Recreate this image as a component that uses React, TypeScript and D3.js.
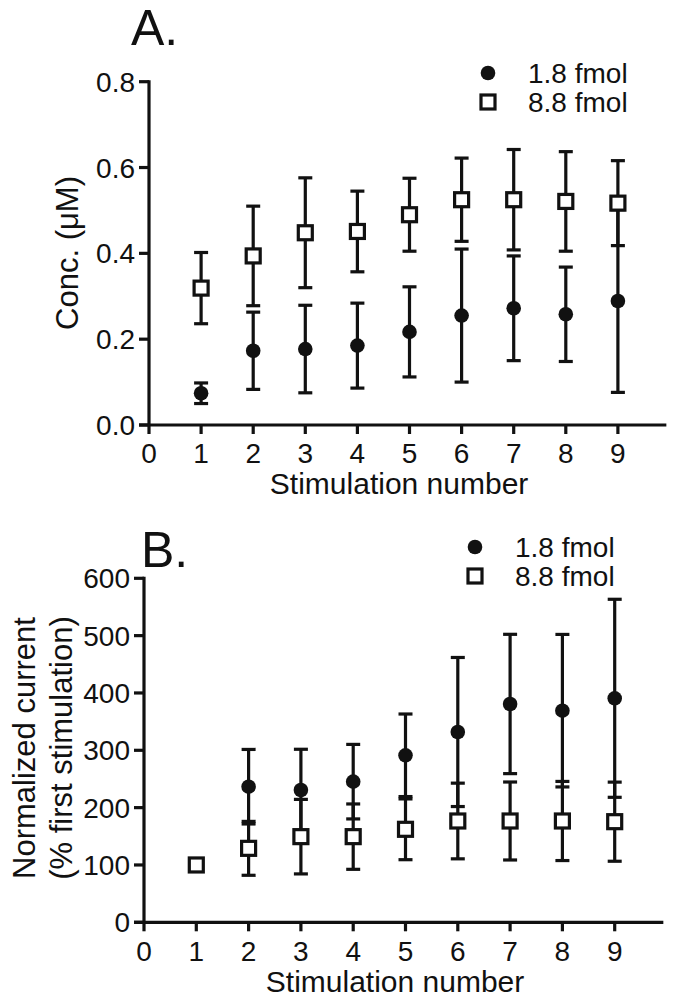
import React from "react";
import * as d3 from "d3";

const stims = [1, 2, 3, 4, 5, 6, 7, 8, 9];
const xTicks = [0, 1, 2, 3, 4, 5, 6, 7, 8, 9];
const seriesNames = ["1.8 fmol", "8.8 fmol"];

// Panel A: concentration (µM)
const concLow = [0.074, 0.173, 0.177, 0.185, 0.217, 0.255, 0.272, 0.258, 0.289];
const concLowErr = [0.024, 0.09, 0.102, 0.099, 0.105, 0.155, 0.122, 0.11, 0.213];
const concHigh = [0.319, 0.394, 0.448, 0.451, 0.49, 0.525, 0.525, 0.521, 0.517];
const concHighErr = [0.083, 0.116, 0.128, 0.094, 0.085, 0.097, 0.117, 0.116, 0.099];
const concTicks = [0, 0.2, 0.4, 0.6, 0.8];

// Panel B: normalized current (% first stimulation)
const normLow = [100, 236.5, 230.8, 245.3, 291.3, 331.9, 380.8, 369.1, 390.7];
const normLowErr = [0, 65, 71, 65, 72, 130, 121.5, 133, 172.7];
const normHigh = [100, 129, 149.4, 149.4, 162.2, 176.7, 176.7, 176.7, 175.5];
const normHighErr = [0, 47, 65, 57, 53, 66, 68, 69, 69];
const normTicks = [0, 100, 200, 300, 400, 500, 600];

const FONT = "'Liberation Sans', Arial, Helvetica, sans-serif";

type PanelProps = {
  letter: string;
  letterX: number;
  letterY: number;
  x0: number;
  x1: number;
  yTop: number;
  yBot: number;
  yMax: number;
  yTicks: number[];
  yFmt: (v: number) => string;
  low: number[];
  lowErr: number[];
  high: number[];
  highErr: number[];
  legendX: number;
  legendY: number;
  tickLabelY: number;
  xTitleY: number;
  yTitle: React.ReactNode;
};

function Panel(p: PanelProps) {
  const x = d3.scaleLinear().domain([0, 10]).range([p.x0, p.x1]);
  const y = d3.scaleLinear().domain([0, p.yMax]).range([p.yBot, p.yTop]);
  const cap = 7;
  const r = 7.3;
  const sq = 14;
  const sw = 3.2;

  const errBars = (vals: number[], errs: number[], key: string) =>
    stims.map((s, i) => {
      if (!errs[i]) return null;
      const cx = x(s);
      const yt = y(vals[i] + errs[i]);
      const yb = y(vals[i] - errs[i]);
      return (
        <g key={key + i} stroke="#111" strokeWidth={sw} fill="none">
          <line x1={cx} x2={cx} y1={yt} y2={yb} />
          <line x1={cx - cap} x2={cx + cap} y1={yt} y2={yt} />
          <line x1={cx - cap} x2={cx + cap} y1={yb} y2={yb} />
        </g>
      );
    });

  return (
    <g fontFamily={FONT} fill="#111">
      <text x={p.letterX} y={p.letterY} fontSize={50}>
        {p.letter}
      </text>
      {/* y axis */}
      <line x1={x(0)} x2={x(0)} y1={y(p.yMax) - 1.5} y2={y(0)} stroke="#111" strokeWidth={sw} />
      {p.yTicks.map((t) => (
        <g key={"yt" + t}>
          <line x1={x(0) - 10} x2={x(0)} y1={y(t)} y2={y(t)} stroke="#111" strokeWidth={sw} />
          <text x={x(0) - 14} y={y(t)} dy="0.36em" textAnchor="end" fontSize={28}>
            {p.yFmt(t)}
          </text>
        </g>
      ))}
      {/* x axis */}
      <line x1={x(0) - 10} x2={x(9.93)} y1={y(0)} y2={y(0)} stroke="#111" strokeWidth={sw} />
      {xTicks.map((t) => (
        <g key={"xt" + t}>
          <line x1={x(t)} x2={x(t)} y1={y(0)} y2={y(0) + 9} stroke="#111" strokeWidth={sw} />
          <text x={x(t)} y={p.tickLabelY} textAnchor="middle" fontSize={28}>
            {t}
          </text>
        </g>
      ))}
      <text x={x(4.8)} y={p.xTitleY} textAnchor="middle" fontSize={30}>
        Stimulation number
      </text>
      {p.yTitle}
      {/* series 1: filled circles */}
      {errBars(p.low, p.lowErr, "le")}
      {stims.map((s, i) => (
        <circle key={"c" + i} cx={x(s)} cy={y(p.low[i])} r={r} fill="#111" />
      ))}
      {/* series 2: open squares */}
      {errBars(p.high, p.highErr, "he")}
      {stims.map((s, i) => (
        <rect
          key={"s" + i}
          x={x(s) - sq / 2}
          y={y(p.high[i]) - sq / 2}
          width={sq}
          height={sq}
          fill="#fff"
          stroke="#111"
          strokeWidth={sw}
        />
      ))}
      {/* legend */}
      <circle cx={p.legendX} cy={p.legendY} r={r} fill="#111" />
      <text x={p.legendX + 40} y={p.legendY + 10} fontSize={28}>
        {seriesNames[0]}
      </text>
      <rect
        x={p.legendX - sq / 2}
        y={p.legendY + 29 - sq / 2}
        width={sq}
        height={sq}
        fill="#fff"
        stroke="#111"
        strokeWidth={sw}
      />
      <text x={p.legendX + 40} y={p.legendY + 39} fontSize={28}>
        {seriesNames[1]}
      </text>
    </g>
  );
}

export default function App() {
  return (
    <svg
      width={677}
      height={1006}
      style={{ position: "absolute", left: 0, top: 0, background: "#fff" }}
    >
      <rect width={677} height={1006} fill="#fff" />
      <Panel
        letter="A."
        letterX={131}
        letterY={45}
        x0={149}
        x1={670}
        yTop={81.7}
        yBot={425}
        yMax={0.8}
        yTicks={concTicks}
        yFmt={(v) => v.toFixed(1)}
        low={concLow}
        lowErr={concLowErr}
        high={concHigh}
        highErr={concHighErr}
        legendX={488}
        legendY={73}
        tickLabelY={463}
        xTitleY={494}
        yTitle={
          <text
            transform="translate(78,253) rotate(-90)"
            textAnchor="middle"
            fontSize={31}
          >
            Conc. (μM)
          </text>
        }
      />
      <Panel
        letter="B."
        letterX={141}
        letterY={567}
        x0={144}
        x1={667}
        yTop={578.3}
        yBot={922.3}
        yMax={600}
        yTicks={normTicks}
        yFmt={(v) => String(v)}
        low={normLow}
        lowErr={normLowErr}
        high={normHigh}
        highErr={normHighErr}
        legendX={475}
        legendY={547}
        tickLabelY={961}
        xTitleY={992}
        yTitle={
          <g>
            <text transform="translate(35,748) rotate(-90)" textAnchor="middle" fontSize={31}>
              Normalized current
            </text>
            <text transform="translate(72,748) rotate(-90)" textAnchor="middle" fontSize={31}>
              (% first stimulation)
            </text>
          </g>
        }
      />
    </svg>
  );
}
